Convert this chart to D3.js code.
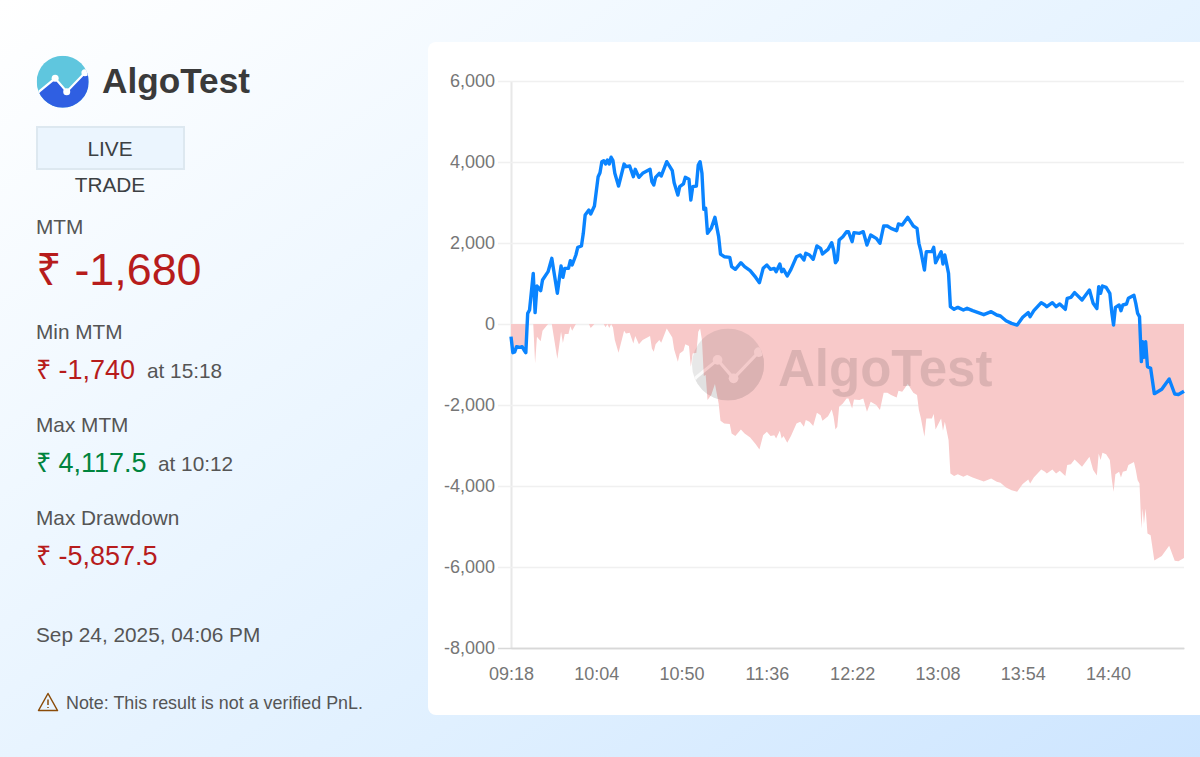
<!DOCTYPE html>
<html><head><meta charset="utf-8">
<script src="https://cdn.jsdelivr.net/npm/d3@7"></script>
<style>
html,body{margin:0;padding:0;width:1200px;height:757px;overflow:hidden}
body{background:linear-gradient(145deg,#ffffff 0%,#eef7ff 35%,#e0f0ff 65%,#cde5ff 100%);font-family:"Liberation Sans",Arial,sans-serif}
svg{display:block;position:absolute;left:0;top:0}
</style></head><body>
<svg id="c" width="1200" height="757"></svg>
<script>
const minutes=[0,1,2,3,5,6,7,8,9,10,12,13,14,16,17,20,22,23,25,27,28,29,31,32,33,35,36,38,39,40,42,43,45,47,48,49,50,51,52,53,54,55,56,58,61,62,64,66,67,69,71,75,76,77,78,80,81,84,87,88,90,91,93,94,96,97,98,100,101,102,103,104,105,106,108,110,112,113,115,118,119,121,124,126,129,132,134,136,138,140,142,143,145,146,147,149,151,154,156,158,159,161,163,165,167,168,171,173,174,175,176,177,179,181,182,184,185,188,190,192,194,197,199,201,203,205,208,209,211,214,217,219,220,221,223,224,227,228,229,232,233,234,236,237,239,241,244,246,249,252,255,259,262,264,267,270,273,276,279,280,282,286,288,289,292,294,296,299,300,302,304,308,312,314,316,317,318,319,321,323,324,325,326,328,329,330,332,333,336,337,338,339,340,340.7,341.4,342.3,343.3,345,347,351,355,358,360,363];
const mtm=[-313,-708,-691,-560,-576,-560,-642,-708,263,346,1251,280,938,823,1086,1292,1621,1333,757,1432,1152,1374,1374,1564,1457,1704,1893,1926,2239,2691,2815,2716,2913,3638,3736,4008,4033,3950,4049,3950,4117.5,4033,3720,3407,3950,3884,3901,3638,3819,3621,3720,3819,3514,3432,3621,3720,3654,4008,3786,3490,3185,3391,3457,3621,3572,3062,3391,3407,3926,4008,3720,2831,2856,2239,2362,2634,2156,1728,1662,1646,1416,1350,1514,1416,1317,1150,1020,1374,1457,1350,1374,1292,1481,1292,1350,1185,1350,1662,1704,1580,1745,1704,1597,1926,1868,1728,1843,2008,1827,1514,1580,2074,2156,2280,2280,2033,2255,2239,2280,1950,2197,2115,1992,2420,2420,2362,2304,2469,2444,2634,2420,2362,1992,1811,1333,1786,1786,1893,1514,1786,1481,1704,1251,428,362,411,346,387,329,280,230,304,222,198,82,16,-25,165,280,181,329,527,469,428,527,428,494,362,634,658,774,593,839,510,379,922,757,938,905,757,305,-25,411,469,329,469,494,634,708,510,263,181,-930,-436,-823,-436,-1053,-1095,-1720,-1613,-1358,-1728,-1740,-1660];
const drawdown=[-313,-708,-691,-560,-576,-560,-642,-708,0,0,0,-971,-313,-428,-165,0,0,-288,-864,-189,-469,-247,-247,-57,-164,0,0,0,0,0,0,-99,0,0,0,0,0,-83,0,-99,0,-85,-398,-711,-168,-234,-217,-480,-299,-497,-398,-299,-604,-686,-497,-398,-464,-110,-332,-628,-933,-727,-661,-497,-546,-1056,-727,-711,-192,-110,-398,-1287,-1262,-1879,-1756,-1484,-1962,-2390,-2456,-2472,-2702,-2768,-2604,-2702,-2801,-2968,-3098,-2744,-2661,-2768,-2744,-2826,-2637,-2826,-2768,-2933,-2768,-2456,-2414,-2538,-2373,-2414,-2521,-2192,-2250,-2390,-2275,-2110,-2291,-2604,-2538,-2044,-1962,-1838,-1838,-2085,-1863,-1879,-1838,-2168,-1921,-2003,-2126,-1698,-1698,-1756,-1814,-1649,-1674,-1484,-1698,-1756,-2126,-2307,-2785,-2332,-2332,-2225,-2604,-2332,-2637,-2414,-2867,-3690,-3756,-3707,-3772,-3731,-3789,-3838,-3888,-3814,-3896,-3920,-4036,-4102,-4143,-3953,-3838,-3937,-3789,-3591,-3649,-3690,-3591,-3690,-3624,-3756,-3484,-3460,-3344,-3525,-3279,-3608,-3739,-3196,-3361,-3180,-3213,-3361,-3813,-4143,-3707,-3649,-3789,-3649,-3624,-3484,-3410,-3608,-3855,-3937,-5048,-4554,-4941,-4554,-5171,-5213,-5838,-5731,-5476,-5846,-5857.5,-5778];
const xTickMinutes=[0,46,92,138,184,230,276,322];
const xTickLabels=["09:18","10:04","10:50","11:36","12:22","13:08","13:54","14:40"];
const yTicks=[-8000,-6000,-4000,-2000,0,2000,4000,6000];

const svg=d3.select("#c");
const F='"Liberation Sans",Arial,sans-serif';
function T(x,y,s,size,col,opt={}){const t=svg.append("text").attr("x",x).attr("y",y).attr("font-size",size).attr("fill",col).attr("font-family",F).text(s);
 if(opt.anchor)t.attr("text-anchor",opt.anchor); if(opt.weight)t.attr("font-weight",opt.weight); return t;}

function logo(g,cx,cy,r,top,bot,lineCol){
 const X=[-0.875,-0.29,0.155,0.855],Y=[0.35,-0.13,0.385,-0.345];
 const pts=X.map((v,i)=>[cx+v*r,cy+Y[i]*r]);
 const id="cl"+Math.round(cx);
 g.append("clipPath").attr("id",id).append("circle").attr("cx",cx).attr("cy",cy).attr("r",r);
 const gg=g.append("g").attr("clip-path",`url(#${id})`);
 gg.append("rect").attr("x",cx-r).attr("y",cy-r).attr("width",2*r).attr("height",2*r).attr("fill",top);
 const ext=[[cx-r,cy+0.5*r],...pts,[cx+r,cy-0.55*r]];
 gg.append("path").attr("d",d3.line()([...ext,[cx+r,cy+r],[cx-r,cy+r]])+"Z").attr("fill",bot);
 gg.append("path").attr("d",d3.line()(ext)).attr("fill","none").attr("stroke",lineCol).attr("stroke-width",r*0.085);
 pts.slice(1,4).forEach(p=>gg.append("circle").attr("cx",p[0]).attr("cy",p[1]).attr("r",r*0.135).attr("fill",lineCol));
}

// card
svg.append("path").attr("d","M1200,42H436a8,8 0 0 0 -8,8V707a8,8 0 0 0 8,8H1200Z").attr("fill","#fff");

// left panel
logo(svg.append("g"),62.7,81.7,26,"#5fc6de","#2f5fe2","#fff");
T(102,93,"AlgoTest",35.2,"#3a3a3a",{weight:"bold"});
svg.append("rect").attr("x",37).attr("y",127).attr("width",147).attr("height",42).attr("fill","#ebf5fe").attr("stroke","#dde8f0").attr("stroke-width",2);
T(110,156,"LIVE",20.8,"#3c4043",{anchor:"middle"});
T(110,192,"TRADE",20.8,"#3c4043",{anchor:"middle"});
T(36,234,"MTM",20.8,"#555");
T(36,285,"₹ -1,680",44.8,"#b71c1c");
T(36,339,"Min MTM",20.8,"#555");
T(36,379,"₹ -1,740",27,"#b71c1c");
T(147,378,"at 15:18",20.8,"#555");
T(36,432,"Max MTM",20.8,"#555");
T(36,472,"₹ 4,117.5",27,"#00843d");
T(158,471,"at 10:12",20.8,"#555");
T(36,525,"Max Drawdown",20.8,"#555");
T(36,565,"₹ -5,857.5",27,"#b71c1c");
T(36,642,"Sep 24, 2025, 04:06 PM",20.8,"#555");
T(66,709,"Note: This result is not a verified PnL.",17.9,"#555");
const w=svg.append("g").attr("fill","none").attr("stroke","#8a4b08");
w.append("path").attr("d","M48,693.5L57.5,710.5H38.5Z").attr("stroke-width",1.5).attr("stroke-linejoin","round");
w.append("path").attr("d","M48,699.5V705M48,707V708").attr("stroke-width",1.5);

// chart
const x=d3.scaleLinear().domain([0,363]).range([511,1184]);
const y=d3.scaleLinear().domain([-8000,6000]).range([648,81]);

const ya=svg.append("g").attr("transform","translate(511,0)").call(d3.axisLeft(y).tickValues(yTicks).tickSize(-673).tickSizeOuter(0).tickPadding(16).tickFormat(d=>d3.format(",")(d).replace("\u2212","-")));
ya.select(".domain").attr("stroke","#e8e8e8").attr("stroke-width",2);
ya.selectAll("line").attr("stroke","#f0f0f0").attr("stroke-width",1.5).attr("x1",-13).attr("x2",673);
ya.selectAll("text").attr("fill","#767676").attr("font-size",18).attr("font-family",F);
ya.selectAll(".tick").filter(d=>d===-8000).select("line").attr("stroke","#d8d8d8");

const xa=svg.append("g").attr("transform","translate(0,648)").call(d3.axisBottom(x).tickValues(xTickMinutes).tickSize(0).tickPadding(19).tickFormat((d,i)=>xTickLabels[i]));
xa.select(".domain").attr("stroke","#d8d8d8").attr("stroke-width",1.5);
xa.selectAll("text").attr("fill","#767676").attr("font-size",18).attr("font-family",F);

const area=d3.area().x((d,i)=>x(minutes[i])).y0(y(0)).y1(d=>y(d));
svg.append("path").datum(drawdown).attr("d",area).attr("fill","#f8c9c9");

// watermark
const wm=svg.append("g").attr("opacity",0.13);
logo(wm,728,364.5,36,"#555","#222","#ddd");
T(778,386,"AlgoTest",51,"#000",{weight:"bold"}).attr("opacity",0.11);

const line=d3.line().x((d,i)=>x(minutes[i])).y(d=>y(d));
svg.append("path").datum(mtm).attr("d",line).attr("fill","none").attr("stroke","#0a84ff").attr("stroke-width",3.4).attr("stroke-linejoin","round");
</script>
</body></html>
